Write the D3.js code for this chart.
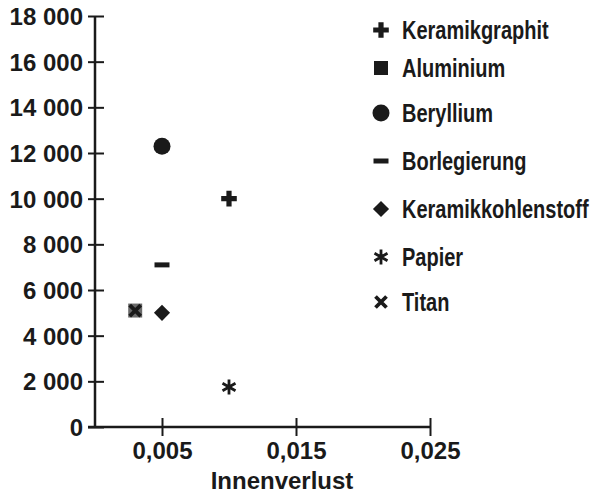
<!DOCTYPE html>
<html>
<head>
<meta charset="utf-8">
<script src="https://cdn.jsdelivr.net/npm/d3@7"></script>
<style>
  html, body { margin: 0; padding: 0; background: #fff; }
  svg { display: block; }
  .tick text { font-family: "Liberation Sans", Arial, sans-serif; font-size: 24px; font-weight: bold; fill: #1a1a1a; }
  .lab { font-family: "Liberation Sans", Arial, sans-serif; font-size: 24px; font-weight: bold; fill: #1a1a1a; }
  .leg { font-family: "Liberation Sans", Arial, sans-serif; font-size: 25px; font-weight: bold; fill: #1a1a1a; }
</style>
</head>
<body>
<div id="chart"></div>
<script>
// Werkstoffe und Werte
var materials = ["Keramikgraphit", "Aluminium", "Beryllium", "Borlegierung", "Keramikkohlenstoff", "Papier", "Titan"];
var innenverlust = [0.010, 0.003, 0.005, 0.005, 0.005, 0.010, 0.003];
var werte = [10000, 5100, 12300, 7100, 5000, 1750, 5100];
var yTicks = [0, 2000, 4000, 6000, 8000, 10000, 12000, 14000, 16000, 18000];
var xTicks = [0.005, 0.015, 0.025];

(function () {
    "use strict";

    var width = 590, height = 495;
    var locale = d3.formatLocale({decimal: ",", thousands: " ", grouping: [3], currency: ["", " €"]});
    var fmtY = locale.format(",d"),
        fmtX = locale.format(".3f");

    var x = d3.scaleLinear().domain([0, 0.025]).range([95, 430]);
    var y = d3.scaleLinear().domain([0, 18000]).range([427, 16]);

    // eigene Symbole
    var minus = {
        draw: function (ctx, size) {
            var w = Math.sqrt(size), h = w / 3;
            ctx.rect(-w / 2, -h / 2, w, h);
        }
    };
    var diamond = {
        draw: function (ctx, size) {
            var r = Math.sqrt(size * 2) / 2;
            ctx.moveTo(0, -r); ctx.lineTo(r, 0); ctx.lineTo(0, r); ctx.lineTo(-r, 0); ctx.closePath();
        }
    };
    var asterisk = {
        draw: function (ctx, size) {
            var r = Math.sqrt(size) / 2;
            for (var i = 0; i < 3; i++) {
                var a = Math.PI / 2 + i * Math.PI / 3;
                ctx.moveTo(Math.cos(a) * r, Math.sin(a) * r);
                ctx.lineTo(-Math.cos(a) * r, -Math.sin(a) * r);
            }
        }
    };
    var times = {
        draw: function (ctx, size) {
            var r = Math.sqrt(size) / 2;
            ctx.moveTo(-r, -r); ctx.lineTo(r, r);
            ctx.moveTo(r, -r); ctx.lineTo(-r, r);
        }
    };

    // Symbol je Werkstoff: Typ, Fläche, Füllung/Strich
    var symbols = [
        {type: d3.symbolCross, size: 135, stroke: false},
        {type: d3.symbolSquare, size: 196, stroke: false},
        {type: d3.symbolCircle, size: 227, stroke: false},
        {type: minus, size: 225, stroke: false},
        {type: diamond, size: 130, stroke: false},
        {type: asterisk, size: 225, stroke: true, sw: 2.8},
        {type: times, size: 121, stroke: true, sw: 3.8}
    ];

    var svg = d3.select("#chart").append("svg")
        .attr("width", width)
        .attr("height", height);

    // Y-Achse
    var yAxis = svg.append("g")
        .attr("transform", "translate(" + x(0) + ",0)")
        .call(d3.axisLeft(y).tickValues(yTicks).tickFormat(fmtY).tickSize(0).tickPadding(12));
    yAxis.select(".domain").remove();
    yAxis.selectAll(".tick line").attr("x1", -7).attr("x2", 9).attr("stroke", "#1a1a1a").attr("stroke-width", 2);
    yAxis.selectAll(".tick text").attr("dy", "0.36em");

    // X-Achse
    var xAxis = svg.append("g")
        .attr("transform", "translate(0," + y(0) + ")")
        .call(d3.axisBottom(x).tickValues(xTicks).tickFormat(fmtX).tickSize(0).tickPadding(15));
    xAxis.select(".domain").remove();
    xAxis.selectAll(".tick line").attr("y1", -9).attr("y2", 9).attr("stroke", "#1a1a1a").attr("stroke-width", 2);
    xAxis.selectAll(".tick text").attr("dy", "0.71em");

    svg.append("line")
        .attr("x1", x(0)).attr("x2", x(0))
        .attr("y1", y(18000)).attr("y2", y(0))
        .attr("stroke", "#1a1a1a").attr("stroke-width", 2.5);
    svg.append("line")
        .attr("x1", x(0) - 7).attr("x2", x(0.025))
        .attr("y1", y(0)).attr("y2", y(0))
        .attr("stroke", "#1a1a1a").attr("stroke-width", 2.5);

    svg.append("text")
        .attr("class", "lab")
        .attr("x", 282).attr("y", 489)
        .attr("text-anchor", "middle")
        .text("Innenverlust");

    function drawSymbol(sel, i) {
        var s = symbols[i];
        sel.attr("d", d3.symbol().type(s.type).size(s.size)());
        if (s.stroke) {
            sel.attr("fill", "none").attr("stroke", "#1a1a1a").attr("stroke-width", s.sw);
        } else {
            sel.attr("fill", "#1a1a1a");
        }
    }

    // Punkte
    var data = materials.map(function (m, i) {
        return {name: m, i: i, x: innenverlust[i], y: werte[i]};
    });
    svg.append("g").selectAll("path")
        .data(data)
        .join("path")
        .attr("transform", function (d) { return "translate(" + x(d.x) + "," + y(d.y) + ")"; })
        .each(function (d) { drawSymbol(d3.select(this), d.i); })
        .filter(function (d) { return d.name === "Aluminium"; })
        .attr("fill", "#6a6a6a");

    // Legende
    var legRows = [30, 68, 113, 161, 209, 257, 302];
    var leg = svg.append("g").selectAll("g")
        .data(data)
        .join("g")
        .attr("transform", function (d) { return "translate(381," + legRows[d.i] + ")"; });
    leg.append("path").each(function (d) { drawSymbol(d3.select(this), d.i); });
    leg.append("text")
        .attr("class", "leg")
        .attr("transform", "translate(21,9) scale(0.8,1)")
        .text(function (d) { return d.name; });
})();
</script>
</body>
</html>
